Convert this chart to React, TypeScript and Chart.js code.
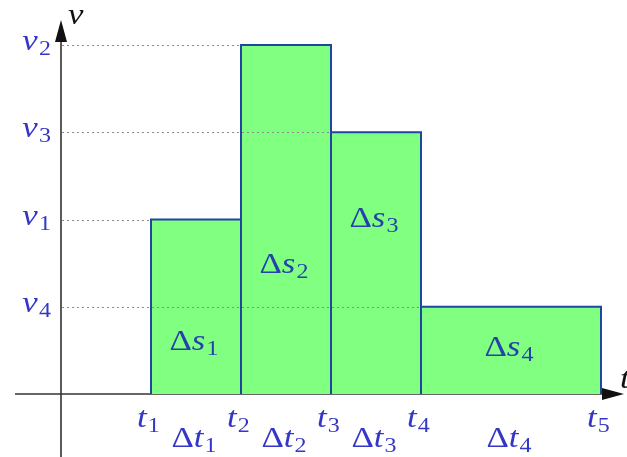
import React, { useEffect, useRef } from "react";
import { Chart, registerables } from "chart.js";

Chart.register(...registerables);

// time marks t1..t5 (arbitrary units)
const timeValues = [1, 2, 3, 4, 6];
const timeLabels = ["1", "2", "3", "4", "5"];
// velocity of each interval (v1, v2, v3, v4)
const velocityValues = [2, 4, 3, 1];
const velocityLabels = ["1", "2", "3", "4"];
// Δs / Δt labels
const intervalLabels = ["1", "2", "3", "4"];
// baseline of the Δs labels inside the bars (in v units)
const areaLabelHeights = [0.5, 1.39, 1.91, 0.44];

const BLUE = "#3535c8";
const AREA_BLUE = "#2442aa";
const FILL = "#80ff80";
const EDGE = "#1f47a0";
const FAMILY = '"Liberation Serif", serif';
const SIZE = 29;
const SUB = 20;
const STRETCH = 1.2;

type Part = { text: string; italic?: boolean; sub?: boolean };

function fontFor(p: Part) {
  return `${p.italic ? "italic " : ""}${p.sub ? SUB : SIZE}px ${FAMILY}`;
}

function drawParts(
  ctx: CanvasRenderingContext2D,
  parts: Part[],
  x: number,
  baseline: number,
  color: string,
  align: "left" | "center" | "right" = "left"
) {
  let w = 0;
  for (const p of parts) {
    ctx.font = fontFor(p);
    w += ctx.measureText(p.text).width + (p.italic ? 1 : 0);
  }
  const total = w * STRETCH;
  const startX = align === "left" ? x : align === "center" ? x - total / 2 : x - total;
  ctx.save();
  ctx.translate(startX, baseline);
  ctx.scale(STRETCH, 1);
  ctx.fillStyle = color;
  ctx.textAlign = "left";
  ctx.textBaseline = "alphabetic";
  let cx = 0;
  for (const p of parts) {
    ctx.font = fontFor(p);
    ctx.fillText(p.text, cx, p.sub ? 5 : 0);
    cx += ctx.measureText(p.text).width + (p.italic ? 1 : 0);
  }
  ctx.restore();
}

const overlayPlugin = {
  id: "overlay",
  beforeDatasetsDraw(chart: any) {
    const { ctx, scales, chartArea } = chart;
    const x0 = scales.x.getPixelForValue(0);
    const y0 = scales.y.getPixelForValue(0);
    ctx.save();
    ctx.strokeStyle = "#333333";
    ctx.fillStyle = "#111111";
    ctx.lineWidth = 1.6;
    const xEnd = chartArea.right - 3;
    ctx.beginPath();
    ctx.moveTo(chartArea.left + 15, y0);
    ctx.lineTo(xEnd - 20, y0);
    ctx.stroke();
    ctx.beginPath();
    ctx.moveTo(xEnd, y0);
    ctx.lineTo(xEnd - 22, y0 - 6);
    ctx.lineTo(xEnd - 22, y0 + 6);
    ctx.closePath();
    ctx.fill();
    const yTop = chartArea.top + 20;
    ctx.beginPath();
    ctx.moveTo(x0, chartArea.bottom);
    ctx.lineTo(x0, yTop + 20);
    ctx.stroke();
    ctx.beginPath();
    ctx.moveTo(x0, yTop);
    ctx.lineTo(x0 - 6, yTop + 22);
    ctx.lineTo(x0 + 6, yTop + 22);
    ctx.closePath();
    ctx.fill();
    ctx.restore();
  },
  afterDatasetsDraw(chart: any) {
    const { ctx, scales, chartArea } = chart;
    const xs = scales.x;
    const ys = scales.y;
    const x0 = xs.getPixelForValue(0);
    const y0 = ys.getPixelForValue(0);
    ctx.save();
    ctx.strokeStyle = "#8a8a8a";
    ctx.lineWidth = 1;
    ctx.setLineDash([2, 3]);
    velocityValues.forEach((v, i) => {
      const y = Math.round(ys.getPixelForValue(v)) + 0.5;
      ctx.beginPath();
      ctx.moveTo(x0 + 1, y);
      ctx.lineTo(xs.getPixelForValue(timeValues[i]), y);
      ctx.stroke();
    });
    ctx.setLineDash([]);

    velocityValues.forEach((v, i) => {
      drawParts(
        ctx,
        [{ text: "v", italic: true }, { text: velocityLabels[i], sub: true }],
        x0 - 10,
        ys.getPixelForValue(v) + 5,
        BLUE,
        "right"
      );
    });
    timeValues.forEach((t, i) => {
      drawParts(
        ctx,
        [{ text: "t", italic: true }, { text: timeLabels[i], sub: true }],
        xs.getPixelForValue(t) - 14,
        y0 + 33,
        BLUE,
        "left"
      );
    });
    intervalLabels.forEach((lab, i) => {
      const mid = xs.getPixelForValue((timeValues[i] + timeValues[i + 1]) / 2);
      drawParts(
        ctx,
        [{ text: "Δ" }, { text: "t", italic: true }, { text: lab, sub: true }],
        mid - 2,
        y0 + 53,
        BLUE,
        "center"
      );
    });
    intervalLabels.forEach((lab, i) => {
      const mid = xs.getPixelForValue((timeValues[i] + timeValues[i + 1]) / 2);
      drawParts(
        ctx,
        [{ text: "Δ" }, { text: "s", italic: true }, { text: lab, sub: true }],
        mid - 2,
        ys.getPixelForValue(areaLabelHeights[i]),
        AREA_BLUE,
        "center"
      );
    });
    drawParts(ctx, [{ text: "v", italic: true }], x0 + 7, chartArea.top + 24, "#111111", "left");
    drawParts(ctx, [{ text: "t", italic: true }], chartArea.right - 7, y0 - 6, "#111111", "left");
    ctx.restore();
  },
};

export default function App() {
  const ref = useRef<HTMLCanvasElement | null>(null);
  useEffect(() => {
    const canvas = ref.current!;
    const W = 627;
    const H = 457;
    const xOrigin = 61;
    const xUnit = 90;
    const yOrigin = 394;
    const yUnit = 87.25;

    const datasets = velocityValues.map((v, i) => ({
      type: "line" as const,
      data: [
        { x: timeValues[i], y: 0 },
        { x: timeValues[i], y: v },
        { x: timeValues[i + 1], y: v },
        { x: timeValues[i + 1], y: 0 },
      ],
      fill: "origin",
      backgroundColor: FILL,
      borderColor: EDGE,
      borderWidth: 2,
      pointRadius: 0,
      tension: 0,
      borderJoinStyle: "miter" as const,
    }));

    const chart = new Chart(canvas, {
      type: "line",
      data: { datasets: datasets as any },
      options: {
        animation: false,
        responsive: false,
        devicePixelRatio: 1,
        layout: { padding: 0 },
        plugins: { legend: { display: false }, tooltip: { enabled: false } },
        scales: {
          x: {
            type: "linear",
            display: false,
            min: -xOrigin / xUnit,
            max: (W - xOrigin) / xUnit,
          },
          y: {
            type: "linear",
            display: false,
            min: -(H - yOrigin) / yUnit,
            max: yOrigin / yUnit,
          },
        },
      },
      plugins: [overlayPlugin],
    });
    return () => chart.destroy();
  }, []);
  return (
    <div style={{ position: "absolute", left: 0, top: 0, width: 627, height: 457, background: "#ffffff" }}>
      <canvas ref={ref} width={627} height={457} style={{ display: "block" }} />
    </div>
  );
}
